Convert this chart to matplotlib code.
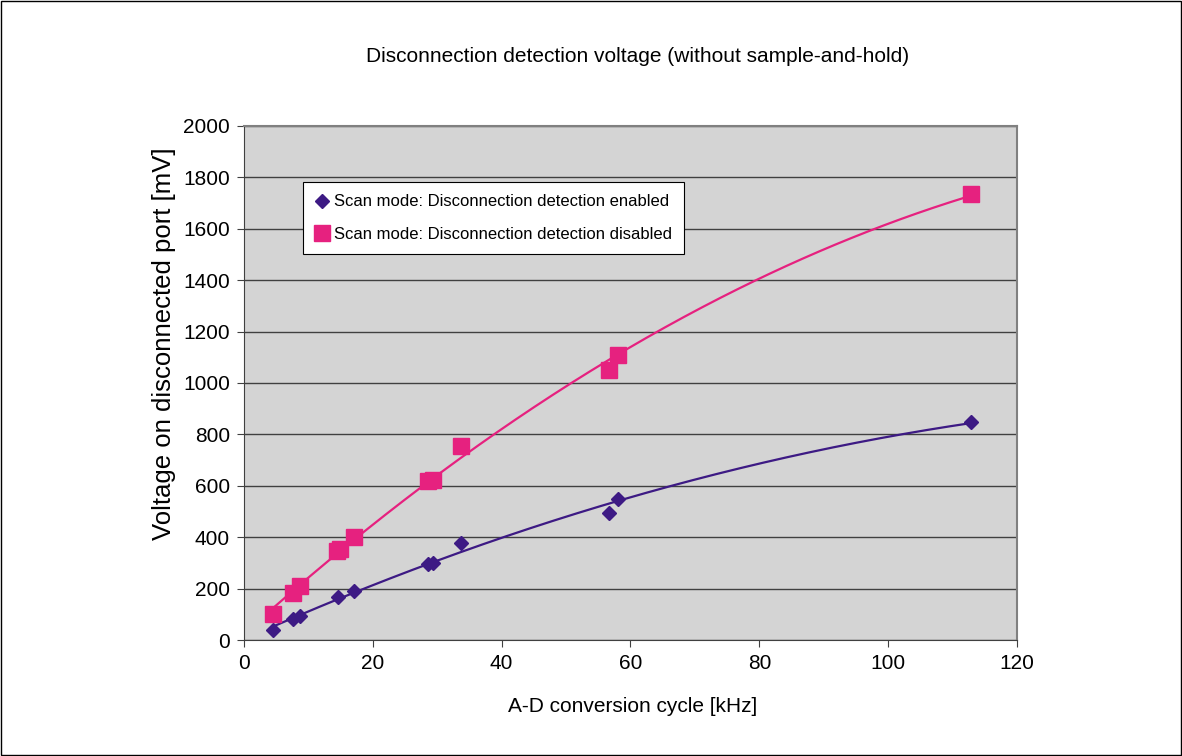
import numpy as np
import matplotlib.pyplot as plt
from matplotlib.patches import Rectangle

plt.rcParams['font.family'] = ['Liberation Sans', 'DejaVu Sans']

# 测量数据：A-D 转换周期 [kHz]
freq = [4.5, 7.6, 8.7, 14.6, 17.1, 28.6, 29.3, 33.7, 56.7, 58.1, 112.8]
# 断线检测 enabled
v_enabled = [40, 82, 93, 167, 190, 296, 300, 377, 494, 549, 848]
# 断线检测 disabled
freq_dis = [4.5, 7.6, 8.7, 14.4, 14.9, 17.1, 28.6, 29.3, 33.7, 56.7, 58.1, 112.8]
v_disabled = [101, 183, 210, 345, 355, 401, 619, 622, 755, 1050, 1109, 1735]

label_en = 'Scan mode: Disconnection detection enabled'
label_dis = 'Scan mode: Disconnection detection disabled'
c_en = '#3D1A84'
c_dis = '#E6217F'

fig = plt.figure(figsize=(11.82, 7.56), dpi=100)
ax = fig.add_axes([0.2064, 0.1534, 0.654, 0.68])
ax.set_facecolor('#D4D4D4')

# 趋势线（二次多项式拟合）
for xs, ys, c in [(freq, v_enabled, c_en), (freq_dis, v_disabled, c_dis)]:
    p = np.polyfit(xs, ys, 2)
    xx = np.linspace(min(xs), max(xs), 300)
    ax.plot(xx, np.polyval(p, xx), color=c, lw=1.6, zorder=2)

ax.plot(freq, v_enabled, 'D', color=c_en, ms=7.5, label=label_en, zorder=3)
ax.plot(freq_dis, v_disabled, 's', color=c_dis, ms=11, label=label_dis, zorder=3)

ax.set_xlim(0, 120)
ax.set_ylim(0, 2000)
ax.set_xticks(np.arange(0, 121, 20))
ax.set_yticks(np.arange(0, 2001, 200))
ax.yaxis.grid(True, color='#404040', lw=1)
ax.set_axisbelow(True)
ax.tick_params(labelsize=15, direction='out', length=5, pad=5, color='#404040')
for s in ['top', 'right']:
    ax.spines[s].set_color('#808080')
    ax.spines[s].set_linewidth(1.5)
for s in ['left', 'bottom']:
    ax.spines[s].set_color('#404040')

ax.set_xlabel('A-D conversion cycle [kHz]', fontsize=15, va='center')
ax.xaxis.set_label_coords(0.503, -0.13)
ax.set_ylabel('Voltage on disconnected port [mV]', fontsize=18.5, va='center')
ax.yaxis.set_label_coords(-0.103, 0.576)
fig.text(0.539, 0.925, 'Disconnection detection voltage (without sample-and-hold)',
         fontsize=15, ha='center', va='center')

leg = ax.legend(loc='upper left', bbox_to_anchor=(0.076, 0.891), fontsize=12,
                fancybox=False, framealpha=1, edgecolor='black', handlelength=0.8,
                handletextpad=0.3, labelspacing=1.05, borderpad=0.75, borderaxespad=0)
leg.get_frame().set_linewidth(0.8)

# 外框
fig.patches.append(Rectangle((0.001, 0.001), 0.998, 0.998, transform=fig.transFigure,
                             fill=False, edgecolor='black', lw=1))

fig.savefig('out.png', dpi=100)
